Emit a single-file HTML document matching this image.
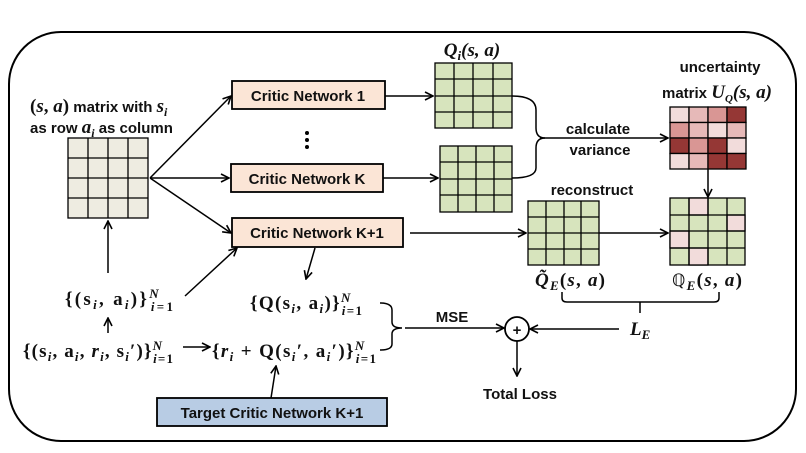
<!DOCTYPE html>
<html><head><meta charset="utf-8"><style>
body{margin:0;background:#fff}
svg{display:block}
.t{font-family:"Liberation Sans",sans-serif;font-weight:bold;font-size:15px;fill:#111}
.m{font-family:"Liberation Serif",serif;font-weight:bold;font-size:19px;fill:#111}
.i{font-style:italic}
</style></head><body>
<svg width="806" height="453" viewBox="0 0 806 453" xmlns="http://www.w3.org/2000/svg">
<defs>
<marker id="a" markerWidth="10" markerHeight="10" refX="9" refY="5" orient="auto" markerUnits="userSpaceOnUse">
<path d="M1,1 L9,5 L1,9" fill="none" stroke="#000" stroke-width="1.6"/></marker>
</defs>
<rect x="9" y="32" width="787" height="409" rx="52" fill="none" stroke="#000" stroke-width="2"/>

<g stroke="#000" stroke-width="1.3">
<rect x="68" y="138" width="80" height="80" fill="#eeece1"/>
<path d="M88,138V218M108,138V218M128,138V218M68,158H148M68,178H148M68,198H148"/>
</g>
<text class="m" x="30" y="112" font-size="17">(<tspan class="i">s</tspan>, <tspan class="i">a</tspan>)<tspan class="t"> matrix with </tspan><tspan class="i">s<tspan font-size="12" dy="4">i</tspan></tspan></text>
<text class="t" x="30" y="133">as row <tspan class="m i" font-size="17">a<tspan font-size="12" dy="4">i</tspan></tspan><tspan dy="-4"> as column</tspan></text>

<g stroke="#000" stroke-width="1.8" fill="#fbe5d6">
<rect x="232" y="81" width="153" height="28"/>
<rect x="231" y="164" width="152" height="28"/>
<rect x="232" y="218" width="171" height="29"/>
</g>
<rect x="157" y="398" width="230" height="28" fill="#b8cce4" stroke="#000" stroke-width="1.8"/>
<text class="t" x="308" y="101" text-anchor="middle">Critic Network 1</text>
<text class="t" x="307" y="184" text-anchor="middle">Critic Network K</text>
<text class="t" x="317" y="238" text-anchor="middle">Critic Network K+1</text>
<text class="t" x="272" y="418" text-anchor="middle" font-size="16.5">Target Critic Network K+1</text>
<g fill="#000"><circle cx="307" cy="133" r="2"/><circle cx="307" cy="140" r="2"/><circle cx="307" cy="147" r="2"/></g>

<g stroke="#000" stroke-width="1.5" fill="none" marker-end="url(#a)">
<path d="M150,178 L231,96"/>
<path d="M150,178 L229,178"/>
<path d="M150,178 L231,233"/>
<path d="M385,96 L433,96"/>
<path d="M383,178 L438,178"/>
<path d="M540,138 L668,138"/>
<path d="M708,169 L708,197"/>
<path d="M410,233 L526,233"/>
<path d="M599,233 L668,233"/>
<path d="M619,329 L530,329"/>
<path d="M517,341 L517,376"/>
<path d="M405,328 L504,328"/>
<path d="M108,273 L108,221"/>
<path d="M108,333 L108,318"/>
<path d="M185,296 L237,248"/>
<path d="M315,248 L306,279"/>
<path d="M183,347 L210,347"/>
<path d="M271,398 L276,366"/>
</g>
<g stroke="#000" stroke-width="1.5" fill="none">
<path d="M512,96 Q536,96 536,110 V128 Q536,138 545,138 Q536,138 536,148 V168 Q536,178 512,178"/>
<path d="M380,303 Q392,303 392,310 V322 Q392,328 402,328 Q392,328 392,334 V344 Q392,350 380,350"/>
<path d="M562,292 V298 Q562,302 567,302 H714 Q719,302 719,298 V292"/>
<path d="M640,302 V313"/>
</g>
<circle cx="517" cy="329" r="12" fill="#fff" stroke="#000" stroke-width="1.8"/>
<text class="t" x="517" y="335" text-anchor="middle" font-size="17">+</text>

<g stroke="#000" stroke-width="1.3">
<rect x="435" y="63" width="77" height="65" fill="#d7e4bd"/>
<path d="M454,63V128M473,63V128M493,63V128M435,79H512M435,96H512M435,112H512"/>
<rect x="440" y="146" width="72" height="66" fill="#d7e4bd"/>
<path d="M458,146V212M476,146V212M494,146V212M440,162H512M440,179H512M440,195H512"/>
<rect x="528" y="201" width="71" height="64" fill="#d7e4bd"/>
<path d="M546,201V265M564,201V265M581,201V265M528,217H599M528,233H599M528,249H599"/>
</g>
<g stroke="#000" stroke-width="1.3">
<rect x="670" y="107" width="19" height="15.5" fill="#f2dcdb"/><rect x="689" y="107" width="19" height="15.5" fill="#e6b9b8"/><rect x="708" y="107" width="19" height="15.5" fill="#d99694"/><rect x="727" y="107" width="19" height="15.5" fill="#953735"/>
<rect x="670" y="122.5" width="19" height="15.5" fill="#d99694"/><rect x="689" y="122.5" width="19" height="15.5" fill="#e6b9b8"/><rect x="708" y="122.5" width="19" height="15.5" fill="#f2dcdb"/><rect x="727" y="122.5" width="19" height="15.5" fill="#e6b9b8"/>
<rect x="670" y="138" width="19" height="15.5" fill="#953735"/><rect x="689" y="138" width="19" height="15.5" fill="#d99694"/><rect x="708" y="138" width="19" height="15.5" fill="#953735"/><rect x="727" y="138" width="19" height="15.5" fill="#f2dcdb"/>
<rect x="670" y="153.5" width="19" height="15.5" fill="#f2dcdb"/><rect x="689" y="153.5" width="19" height="15.5" fill="#e6b9b8"/><rect x="708" y="153.5" width="19" height="15.5" fill="#953735"/><rect x="727" y="153.5" width="19" height="15.5" fill="#953735"/>
</g>
<g stroke="#000" stroke-width="1.3">
<rect x="670" y="198" width="75" height="67" fill="#d7e4bd"/>
<rect x="689" y="198" width="19" height="17" fill="#f2dcdb"/>
<rect x="727" y="215" width="18" height="16" fill="#f2dcdb"/>
<rect x="670" y="231" width="19" height="17" fill="#f2dcdb"/>
<rect x="689" y="248" width="19" height="17" fill="#f2dcdb"/>
<path d="M689,198V265M708,198V265M727,198V265M670,215H745M670,231H745M670,248H745" fill="none"/>
</g>

<text class="m i" x="472" y="56" text-anchor="middle">Q<tspan font-size="13" dy="4">i</tspan><tspan dy="-4">(s, a)</tspan></text>
<text class="t" x="720" y="72" text-anchor="middle">uncertainty</text>
<text class="t" x="662" y="98">matrix <tspan class="m i" font-size="18">U<tspan font-size="11" dy="4">Q</tspan><tspan dy="-4">(s, a)</tspan></tspan></text>
<text class="t" x="598" y="134" text-anchor="middle">calculate</text>
<text class="t" x="600" y="155" text-anchor="middle">variance</text>
<text class="t" x="592" y="195" text-anchor="middle">reconstruct</text>
<text class="m" x="535" y="286" textLength="70"><tspan class="i">Q̃<tspan font-size="13" dy="4">E</tspan></tspan><tspan dy="-4">(</tspan><tspan class="i">s</tspan>, <tspan class="i">a</tspan>)</text>
<text class="m" x="672" y="286" textLength="70"><tspan font-family="DejaVu Sans" font-weight="normal" font-size="17">ℚ</tspan><tspan class="i" font-size="13" dy="4">E</tspan><tspan dy="-4">(</tspan><tspan class="i">s</tspan>, <tspan class="i">a</tspan>)</text>
<text class="m i" x="630" y="335">L<tspan font-size="13" dy="4">E</tspan></text>
<text class="t" x="452" y="322" text-anchor="middle" font-size="14.5">MSE</text>
<text class="t" x="520" y="399" text-anchor="middle">Total Loss</text>

<text class="m" x="65" y="305" textLength="108">{(s<tspan class="i" font-size="13" dy="4">i</tspan><tspan dy="-4">, a</tspan><tspan class="i" font-size="13" dy="4">i</tspan><tspan dy="-4">)}</tspan><tspan class="i" font-size="13" dy="-7">N</tspan><tspan font-size="13" dx="-10" dy="13"><tspan class="i">i</tspan>=1</tspan></text>
<text class="m" x="23" y="357" textLength="150">{(s<tspan class="i" font-size="13" dy="4">i</tspan><tspan dy="-4">, a</tspan><tspan class="i" font-size="13" dy="4">i</tspan><tspan dy="-4">, </tspan><tspan class="i">r<tspan font-size="13" dy="4">i</tspan></tspan><tspan dy="-4">, s</tspan><tspan class="i" font-size="13" dy="4">i</tspan><tspan dy="-4">′)}</tspan><tspan class="i" font-size="13" dy="-7">N</tspan><tspan font-size="13" dx="-10" dy="13"><tspan class="i">i</tspan>=1</tspan></text>
<text class="m" x="250" y="309" textLength="112">{Q(s<tspan class="i" font-size="13" dy="4">i</tspan><tspan dy="-4">, a</tspan><tspan class="i" font-size="13" dy="4">i</tspan><tspan dy="-4">)}</tspan><tspan class="i" font-size="13" dy="-7">N</tspan><tspan font-size="13" dx="-10" dy="13"><tspan class="i">i</tspan>=1</tspan></text>
<text class="m" x="212" y="357" textLength="164">{<tspan class="i">r</tspan><tspan class="i" font-size="13" dy="4">i</tspan><tspan dy="-4"> + Q(s</tspan><tspan class="i" font-size="13" dy="4">i</tspan><tspan dy="-4">′, a</tspan><tspan class="i" font-size="13" dy="4">i</tspan><tspan dy="-4">′)}</tspan><tspan class="i" font-size="13" dy="-7">N</tspan><tspan font-size="13" dx="-10" dy="13"><tspan class="i">i</tspan>=1</tspan></text>
</svg>
</body></html>
